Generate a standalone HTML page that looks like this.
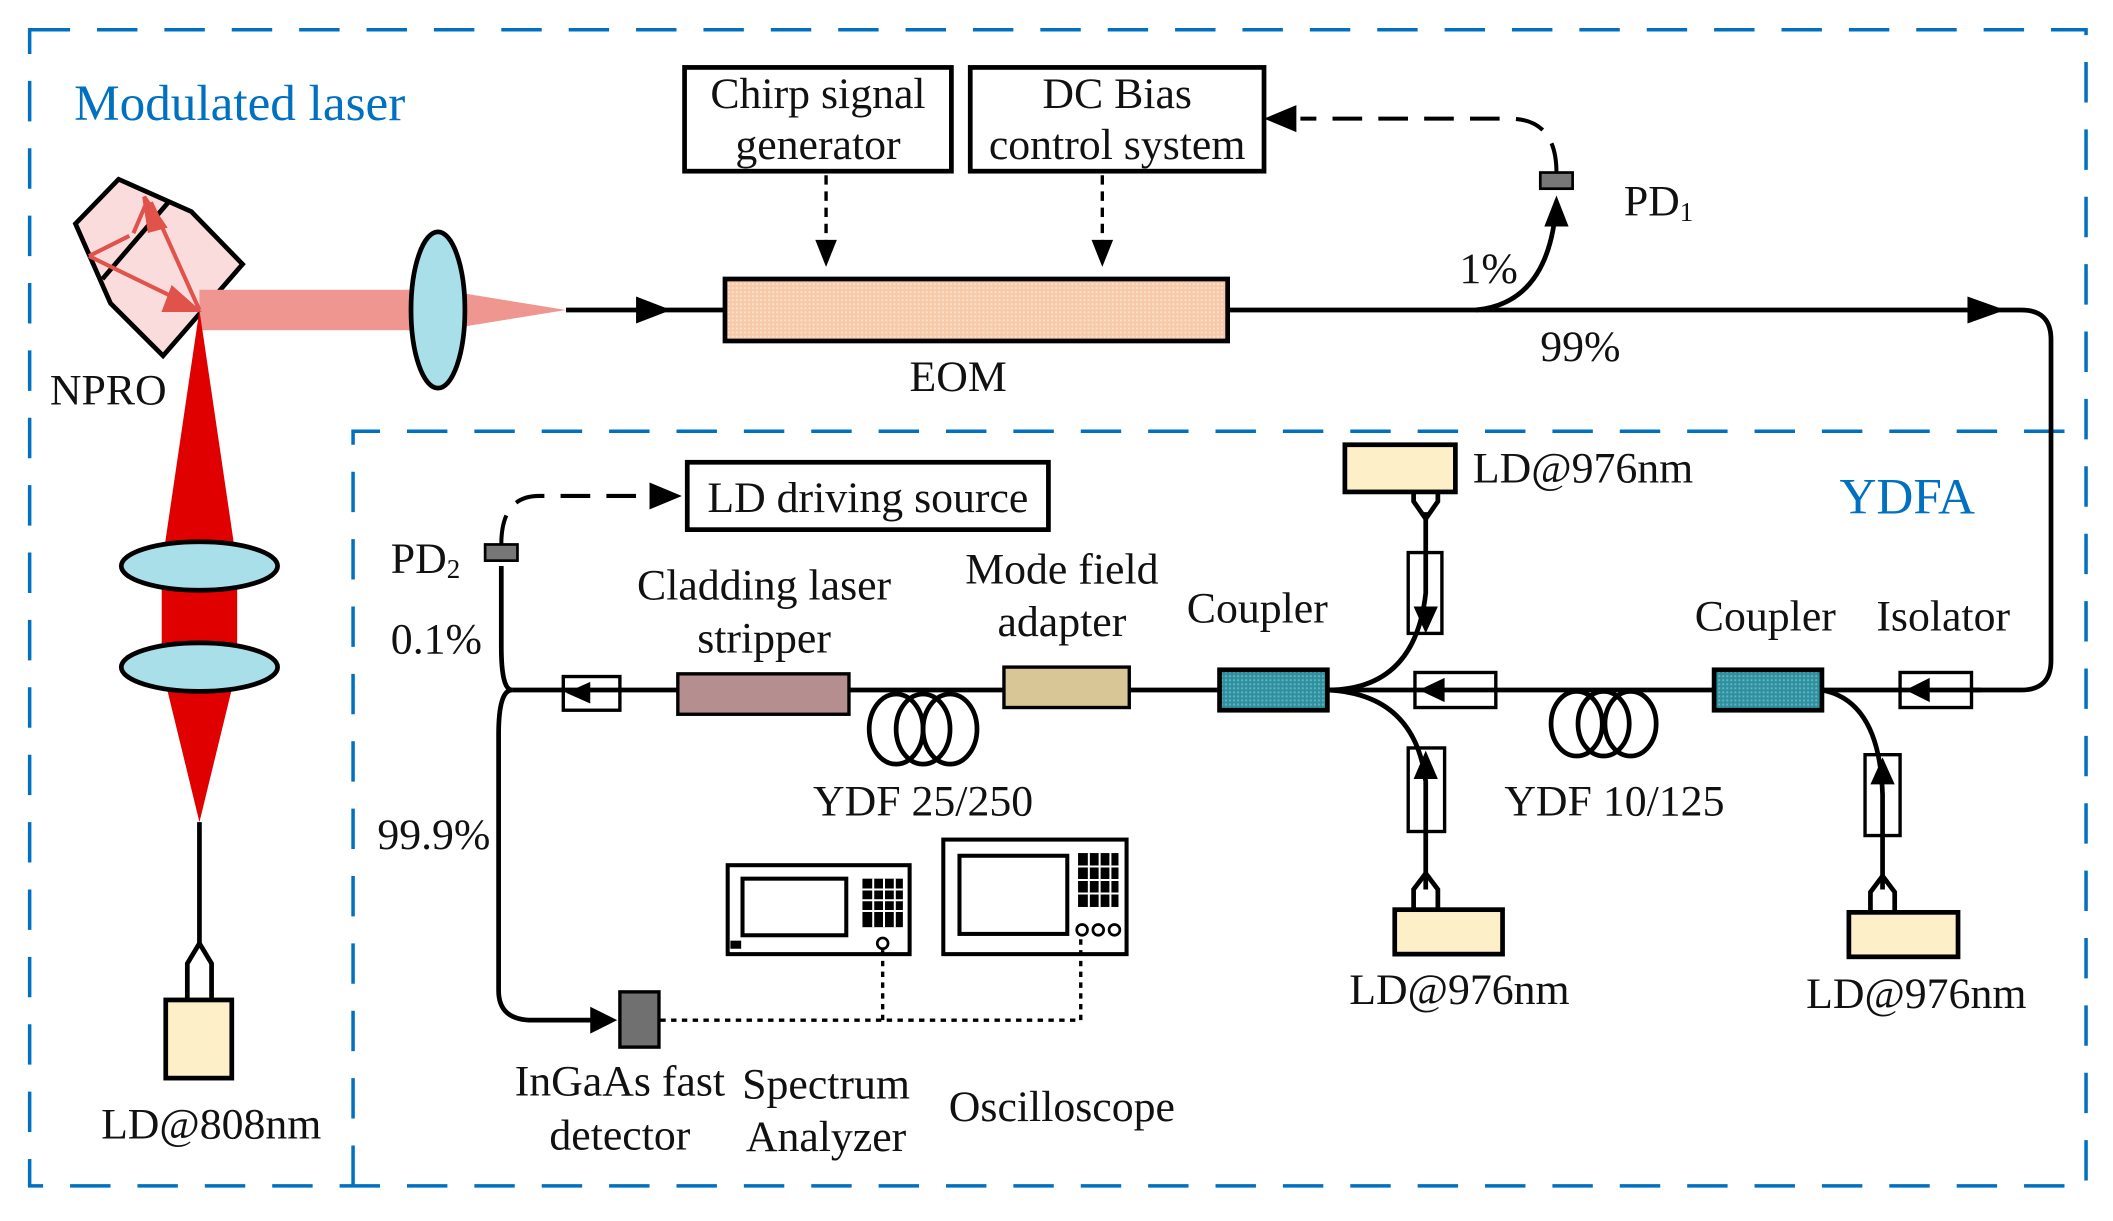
<!DOCTYPE html>
<html><head><meta charset="utf-8"><style>
html,body{margin:0;padding:0;background:#fff;}
svg{display:block}
text{font-family:"Liberation Serif",serif;font-size:32.5px;fill:#111}
.b{fill:#0070c0;font-size:38px}
</style></head><body>
<svg width="2113" height="1221" viewBox="0 0 1568 906" xmlns="http://www.w3.org/2000/svg">
<defs>
<pattern id="hp" width="3" height="3" patternUnits="userSpaceOnUse"><rect width="3" height="3" fill="#f6c9a8"/><rect width="1.5" height="1.5" fill="#fbe0cb"/></pattern>
<pattern id="ht" width="3" height="3" patternUnits="userSpaceOnUse"><rect width="3" height="3" fill="#2f8f9f"/><rect width="1.5" height="1.5" fill="#5fb5c2"/></pattern>
</defs>
<g fill="none" stroke="#0070c0" stroke-width="2.6" stroke-dasharray="30,20">
<rect x="22" y="22" width="1526" height="858"/>
<path d="M262,880 V320 H1548"/>
</g>
<text class="b" x="55" y="89">Modulated laser</text>
<text class="b" x="1365" y="381">YDFA</text>

<!-- NPRO -->
<polygon points="88,133 142,157 180,196 121,264 82,225 56,166" fill="#f9dcdb" stroke="#000" stroke-width="3.5"/>
<line x1="125" y1="150" x2="76" y2="207" stroke="#000" stroke-width="3.5"/>
<rect x="148" y="215" width="162" height="30" fill="#ee968f"/>
<polygon points="340,217 420,230 340,243" fill="#ee968f"/>
<ellipse cx="325" cy="230" rx="20" ry="58" fill="#a8dfe8" stroke="#000" stroke-width="3.5"/>
<g stroke="#e0524a" stroke-width="3" fill="#e0524a">
<line x1="148" y1="230" x2="112" y2="150"/><polygon points="107,146 122,168 111,171"/>
<line x1="66" y1="190" x2="140" y2="226"/><polygon points="146,230 122,230 128,214"/>
<line x1="66" y1="190" x2="96" y2="175"/><line x1="99" y1="173" x2="108" y2="152"/>
</g>
<text x="37" y="300">NPRO</text>
<!-- pump -->
<polygon points="148,230 176,420 176,495 148,610 120,495 120,420" fill="#e00000"/>
<ellipse cx="148" cy="420" rx="58" ry="18" fill="#a8dfe8" stroke="#000" stroke-width="3.5"/>
<ellipse cx="148" cy="495" rx="58" ry="18" fill="#a8dfe8" stroke="#000" stroke-width="3.5"/>
<g stroke="#000" stroke-width="3.5" fill="none">
<line x1="148" y1="610" x2="148" y2="700"/>
<path d="M139,742 V715 L148,700 L157,715 V742"/>
</g>
<rect x="123" y="742" width="49" height="58" fill="#fdf0c8" stroke="#000" stroke-width="3.5"/>
<text x="75" y="845">LD@808nm</text>

<!-- top -->
<rect x="508" y="50" width="198" height="77" fill="#fff" stroke="#000" stroke-width="3.5"/>
<text x="607" y="80" text-anchor="middle">Chirp signal</text>
<text x="607" y="118" text-anchor="middle">generator</text>
<rect x="720" y="50" width="218" height="77" fill="#fff" stroke="#000" stroke-width="3.5"/>
<text x="829" y="80" text-anchor="middle">DC Bias</text>
<text x="829" y="118" text-anchor="middle">control system</text>
<g stroke="#000" stroke-width="2.5" stroke-dasharray="7,5"><line x1="613" y1="130" x2="613" y2="180"/><line x1="818" y1="130" x2="818" y2="180"/></g>
<polygon points="605,178 621,178 613,198" fill="#000"/><polygon points="810,178 826,178 818,198"/>
<rect x="538" y="207" width="373" height="46" fill="url(#hp)" stroke="#000" stroke-width="3.5"/>
<text x="711" y="290" text-anchor="middle">EOM</text>
<g stroke="#000" stroke-width="3.5" fill="none">
<line x1="420" y1="230" x2="538" y2="230"/>
<path d="M911,230 H1500 Q1522,230 1522,252 V490 Q1522,512 1500,512 H1463"/>
<path d="M1095,230 Q1150,225 1155,150"/>
</g>
<polygon points="472,220 498,230 472,240" fill="#000"/>
<polygon points="1460,220 1488,230 1460,240" fill="#000"/>
<polygon points="1146,168 1155,145 1164,168" fill="#000"/>
<rect x="1143" y="128" width="24" height="12" fill="#777" stroke="#000" stroke-width="2"/>
<path d="M1155,128 Q1155,88 1120,88 H965" fill="none" stroke="#000" stroke-width="3" stroke-dasharray="22,12"/>
<polygon points="962,78 938,88 962,98" fill="#000"/>
<text x="1083" y="210">1%</text>
<text x="1143" y="268">99%</text>
<text x="1205" y="160">PD<tspan font-size="20" dy="4">1</tspan></text>

<!-- lower fiber -->
<g stroke="#000" stroke-width="3.5" fill="none">
<line x1="380" y1="512" x2="1470" y2="512"/>
<path d="M380,512 Q372,512 372,480 V420"/>
<path d="M380,512 Q370,512 370,545 V735 Q370,757 395,757 H440"/>
<path d="M985,512 Q1050,512 1058,440 V380"/>
<path d="M985,512 Q1050,515 1058,580 V660"/>
<path d="M1352,512 Q1395,520 1397,590 V660"/>
<path d="M1049,330 V372 L1058,385 L1067,372 V365"/>
<path d="M1049,675 V660 L1058,648 L1067,660 V675"/>
<path d="M1388,677 V662 L1397,650 L1406,662 V677"/>
<ellipse cx="665" cy="541" rx="20" ry="26" fill="#fff"/><ellipse cx="685" cy="541" rx="20" ry="26"/><ellipse cx="705" cy="541" rx="20" ry="26"/>
<ellipse cx="1170" cy="537" rx="19" ry="24" fill="#fff"/><ellipse cx="1190" cy="537" rx="19" ry="24"/><ellipse cx="1210" cy="537" rx="19" ry="24"/>
</g>
<rect x="998" y="330" width="82" height="35" fill="#fdf0c8" stroke="#000" stroke-width="3.5"/>
<rect x="1035" y="675" width="80" height="33" fill="#fdf0c8" stroke="#000" stroke-width="3.5"/>
<rect x="1372" y="677" width="81" height="33" fill="#fdf0c8" stroke="#000" stroke-width="3.5"/>
<rect x="503" y="500" width="127" height="30" fill="#b58f8f" stroke="#000" stroke-width="2.5"/>
<rect x="745" y="495" width="93" height="30" fill="#d8c697" stroke="#000" stroke-width="2.5"/>
<rect x="905" y="497" width="80" height="30" fill="url(#ht)" stroke="#000" stroke-width="3.5"/>
<rect x="1272" y="497" width="80" height="30" fill="url(#ht)" stroke="#000" stroke-width="3.5"/>
<g stroke="#000" stroke-width="2.5" fill="none">
<rect x="418" y="502" width="42" height="25"/><rect x="1050" y="499" width="60" height="26"/><rect x="1410" y="499" width="53" height="26"/>
<rect x="1045" y="410" width="25" height="60"/><rect x="1045" y="555" width="27" height="62"/><rect x="1384" y="560" width="26" height="60"/>
</g>
<g fill="#000">
<polygon points="420,514 438,506 438,522"/><polygon points="1053,512 1072,503 1072,521"/><polygon points="1414,512 1432,503 1432,521"/>
<polygon points="1049,450 1067,450 1058,470"/><polygon points="1049,578 1067,578 1058,557"/><polygon points="1388,582 1406,582 1397,562"/>
</g>
<rect x="360" y="404" width="24" height="12" fill="#777" stroke="#000" stroke-width="2"/>
<path d="M372,404 Q372,368 400,368 H480" fill="none" stroke="#000" stroke-width="3" stroke-dasharray="22,12"/>
<polygon points="482,358 506,368 482,378" fill="#000"/>
<rect x="510" y="343" width="268" height="50" fill="#fff" stroke="#000" stroke-width="3.5"/>
<text x="644" y="380" text-anchor="middle">LD driving source</text>
<polygon points="438,747 458,757 438,767" fill="#000"/>
<rect x="460" y="736" width="29" height="41" fill="#707070" stroke="#000" stroke-width="2.5"/>
<g stroke="#000" stroke-width="3" fill="#fff">
<rect x="540" y="642" width="135" height="66"/><rect x="551" y="652" width="77" height="42"/>
<rect x="700" y="623" width="136" height="85"/><rect x="712" y="635" width="80" height="58"/>
</g>
<g fill="#000">
<rect x="640" y="652" width="30" height="36"/><rect x="800" y="633" width="30" height="40"/><rect x="542" y="698" width="8" height="6"/>
</g>
<g stroke="#fff" stroke-width="1.5"><line x1="640" y1="660" x2="670" y2="660"/><line x1="640" y1="668" x2="670" y2="668"/><line x1="640" y1="676" x2="670" y2="676"/><line x1="648" y1="652" x2="648" y2="688"/><line x1="656" y1="652" x2="656" y2="688"/><line x1="664" y1="652" x2="664" y2="688"/>
<line x1="800" y1="643" x2="830" y2="643"/><line x1="800" y1="653" x2="830" y2="653"/><line x1="800" y1="663" x2="830" y2="663"/><line x1="808" y1="633" x2="808" y2="673"/><line x1="816" y1="633" x2="816" y2="673"/><line x1="824" y1="633" x2="824" y2="673"/></g>
<g fill="#fff" stroke="#000" stroke-width="2"><circle cx="655" cy="700" r="4"/><circle cx="803" cy="690" r="4"/><circle cx="815" cy="690" r="4"/><circle cx="827" cy="690" r="4"/></g>
<path d="M490,757 H802 V695 M655,757 V705" fill="none" stroke="#000" stroke-width="2.5" stroke-dasharray="4,4"/>
<text x="290" y="425">PD<tspan font-size="20" dy="4">2</tspan></text>
<text x="290" y="485">0.1%</text>
<text x="280" y="630">99.9%</text>
<text x="567" y="445" text-anchor="middle">Cladding laser</text>
<text x="567" y="484" text-anchor="middle">stripper</text>
<text x="788" y="433" text-anchor="middle">Mode field</text>
<text x="788" y="472" text-anchor="middle">adapter</text>
<text x="933" y="462" text-anchor="middle">Coupler</text>
<text x="685" y="605" text-anchor="middle">YDF 25/250</text>
<text x="1093" y="358">LD@976nm</text>
<text x="1310" y="468" text-anchor="middle">Coupler</text>
<text x="1442" y="468" text-anchor="middle">Isolator</text>
<text x="1198" y="605" text-anchor="middle">YDF 10/125</text>
<text x="1083" y="745" text-anchor="middle">LD@976nm</text>
<text x="1422" y="748" text-anchor="middle">LD@976nm</text>
<text x="460" y="813" text-anchor="middle">InGaAs fast</text>
<text x="460" y="853" text-anchor="middle">detector</text>
<text x="613" y="815" text-anchor="middle">Spectrum</text>
<text x="613" y="854" text-anchor="middle">Analyzer</text>
<text x="788" y="832" text-anchor="middle">Oscilloscope</text>
</svg>
</body></html>
